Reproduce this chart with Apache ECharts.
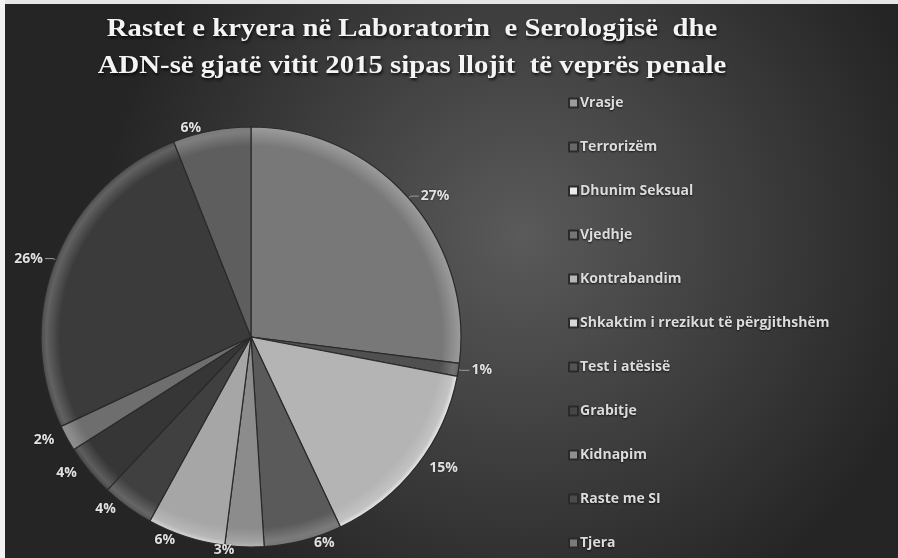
<!DOCTYPE html>
<html>
<head>
<meta charset="utf-8">
<script src="https://cdn.jsdelivr.net/npm/echarts@6/dist/echarts.min.js"></script>
<style>
  html, body { margin: 0; padding: 0; background: #fff; }
  #main { width: 898px; height: 558px; }
</style>
</head>
<body>
<div id="main"></div>
<script>
// kategoritë sipas legjendës
const categories = [
  'Vrasje', 'Terrorizëm', 'Dhunim Seksual', 'Vjedhje', 'Kontrabandim',
  'Shkaktim i rrezikut të përgjithshëm', 'Test i atësisë', 'Grabitje',
  'Kidnapim', 'Raste me SI', 'Tjera'
];
// përqindjet e lexuara nga grafiku
const values = [27, 1, 15, 6, 3, 6, 4, 4, 2, 26, 6];
const sliceColors = [
  '#787878', '#505050', '#b4b4b4', '#5a5a5a', '#8c8c8c',
  '#a6a6a6', '#404040', '#363636', '#6e6e6e', '#3b3b3b', '#5e5e5e'
];
const withLine = ['Vrasje', 'Terrorizëm', 'Raste me SI'];

const cx = 251, cy = 337, R = 210;

const chart = echarts.init(document.getElementById('main'));

const pieData = categories.map((name, i) => ({
  name: name,
  value: values[i],
  itemStyle: {
    color: {
      type: 'radial', x: cx, y: cy, r: R, global: true,
      colorStops: [
        { offset: 0, color: sliceColors[i] },
        { offset: 0.91, color: sliceColors[i] },
        { offset: 0.975, color: echarts.color.lift(sliceColors[i], 0.2) },
        { offset: 1, color: echarts.color.lift(sliceColors[i], -0.3) }
      ]
    }
  },
  labelLine: { show: withLine.indexOf(name) >= 0 }
}));

const option = {
  backgroundColor: {
    type: 'radial', x: 0.58, y: 0.42, r: 0.75,
    colorStops: [
      { offset: 0, color: '#5a5a5a' },
      { offset: 1, color: '#252525' }
    ]
  },
  animation: false,
  graphic: [
    { type: 'rect', shape: { x: 0, y: 0, width: 898, height: 4 }, style: { fill: '#e6e6e6' } },
    { type: 'rect', shape: { x: 0, y: 0, width: 5, height: 558 }, style: { fill: '#f2f2f2' } },
    {
      // titulli, i zgjeruar horizontalisht si në origjinal
      type: 'text',
      x: 412, y: 11,
      scaleX: 1.15,
      originX: 0,
      originY: 0,
      style: {
        text: 'Rastet e kryera në Laboratorin  e Serologjisë  dhe\nADN-së gjatë vitit 2015 sipas llojit  të veprës penale',
        align: 'center',
        fontFamily: 'Liberation Serif',
        fontWeight: 'bold',
        fontSize: 25,
        lineHeight: 37,
        fill: '#f4f4f4',
        textShadowColor: 'rgba(0,0,0,0.8)',
        textShadowBlur: 3,
        textShadowOffsetX: 1,
        textShadowOffsetY: 2
      }
    }
  ],
  legend: {
    orient: 'vertical',
    left: 563,
    top: 90,
    height: 470,
    icon: 'rect',
    itemWidth: 9,
    itemHeight: 9,
    itemGap: 28,
    data: categories,
    textStyle: {
      color: '#dcdcdc',
      fontFamily: 'Open Sans',
      fontWeight: 'bold',
      fontSize: 14,
      lineHeight: 16,
      padding: [0, 0, 0, -3],
      textShadowColor: 'rgba(0,0,0,0.7)',
      textShadowBlur: 2,
      textShadowOffsetY: 1
    }
  },
  series: [{
    type: 'pie',
    center: [cx, cy],
    radius: R,
    startAngle: 90,
    clockwise: true,
    avoidLabelOverlap: false,
    data: pieData,
    itemStyle: {
      borderColor: '#2a2a2a',
      borderWidth: 1.2
    },
    label: {
      show: true,
      position: 'outside',
      formatter: '{d}%',
      color: '#e0e0e0',
      fontFamily: 'Open Sans',
      fontWeight: 'bold',
      fontSize: 14,
      distanceToLabelLine: 2,
      textShadowColor: 'rgba(0,0,0,0.6)',
      textShadowBlur: 2
    },
    labelLine: {
      length: 3,
      length2: 8,
      lineStyle: { color: '#9a9a9a', width: 1 }
    }
  }]
};

chart.setOption(option);
</script>
</body>
</html>
